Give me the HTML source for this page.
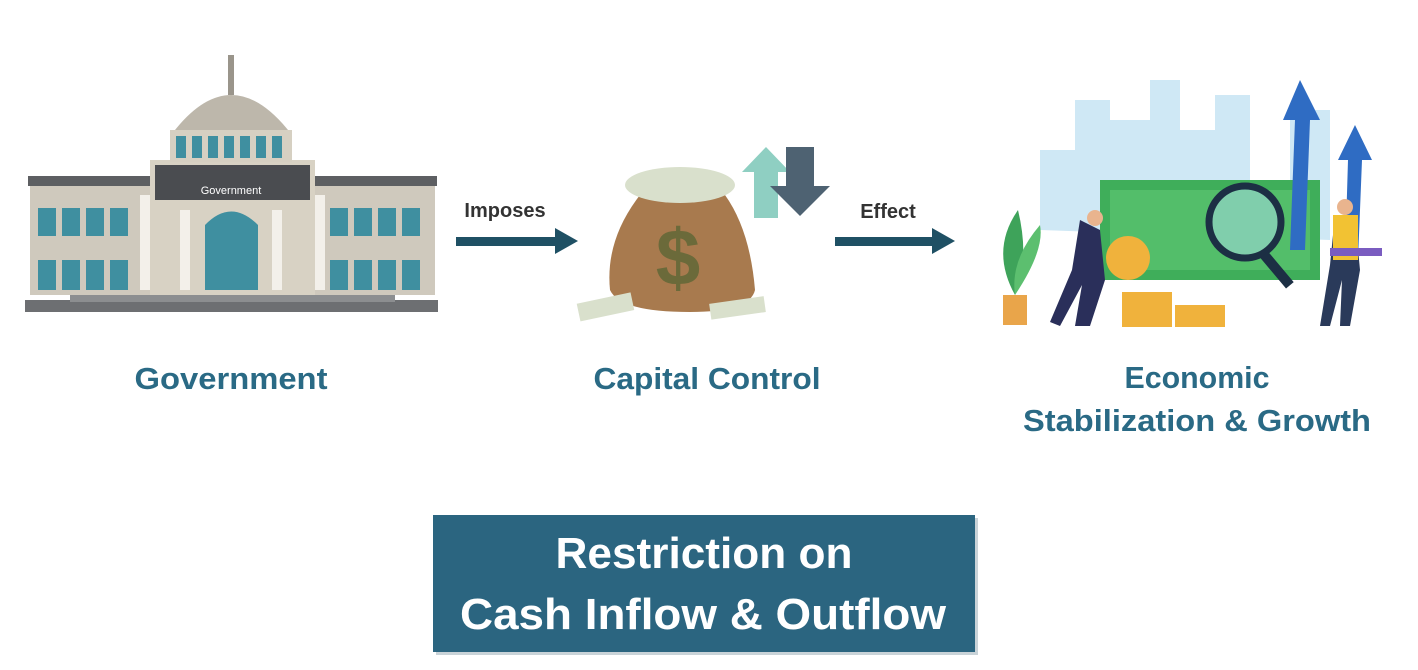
<!DOCTYPE html>
<html><head><meta charset="utf-8"><style>
html,body{margin:0;padding:0;background:#fff;}
svg{display:block;}
text{font-family:"Liberation Sans",sans-serif;}
</style></head><body>
<svg width="1418" height="670" viewBox="0 0 1418 670" xmlns="http://www.w3.org/2000/svg">
<g>
<rect x="25" y="300" width="413" height="12" fill="#6d6f72"/>
<rect x="70" y="290" width="325" height="12" fill="#8c8e90"/>
<rect x="30" y="185" width="130" height="110" fill="#cfc9bd"/>
<rect x="305" y="185" width="130" height="110" fill="#cfc9bd"/>
<rect x="28" y="176" width="134" height="10" fill="#5d5f62"/>
<rect x="303" y="176" width="134" height="10" fill="#5d5f62"/>
<rect x="150" y="160" width="165" height="135" fill="#d8d2c4"/>
<rect x="155" y="165" width="155" height="35" fill="#4a4c50"/>
<text x="231" y="194" font-size="11" fill="#fff" text-anchor="middle">Government</text>
<rect x="170" y="130" width="122" height="32" fill="#d6d0c2"/>
<g fill="#3f8fa0">
<rect x="176" y="136" width="10" height="22"/><rect x="192" y="136" width="10" height="22"/><rect x="208" y="136" width="10" height="22"/><rect x="224" y="136" width="10" height="22"/><rect x="240" y="136" width="10" height="22"/><rect x="256" y="136" width="10" height="22"/><rect x="272" y="136" width="10" height="22"/>
</g>
<path d="M175 130 Q231 60 288 130 Z" fill="#bdb7ab"/>
<rect x="228" y="55" width="6" height="40" fill="#9a958b"/>
<path d="M205 225 Q231 198 258 225 V290 H205 Z" fill="#3f8fa0"/>
<g fill="#3f8fa0">
<rect x="38" y="208" width="18" height="28"/><rect x="62" y="208" width="18" height="28"/><rect x="86" y="208" width="18" height="28"/><rect x="110" y="208" width="18" height="28"/>
<rect x="38" y="260" width="18" height="30"/><rect x="62" y="260" width="18" height="30"/><rect x="86" y="260" width="18" height="30"/><rect x="110" y="260" width="18" height="30"/>
<rect x="330" y="208" width="18" height="28"/><rect x="354" y="208" width="18" height="28"/><rect x="378" y="208" width="18" height="28"/><rect x="402" y="208" width="18" height="28"/>
<rect x="330" y="260" width="18" height="30"/><rect x="354" y="260" width="18" height="30"/><rect x="378" y="260" width="18" height="30"/><rect x="402" y="260" width="18" height="30"/>
</g>
<g fill="#f3f0ea"><rect x="140" y="195" width="10" height="95"/><rect x="315" y="195" width="10" height="95"/><rect x="180" y="210" width="10" height="80"/><rect x="272" y="210" width="10" height="80"/></g>
</g>
<rect x="456" y="237" width="102" height="9" fill="#1f5064"/>
<polygon points="555,228 578,241 555,254" fill="#1f5064"/>
<rect x="835" y="237" width="100" height="9" fill="#1f5064"/>
<polygon points="932,228 955,241 932,254" fill="#1f5064"/>
<text x="505" y="217" font-size="20" font-weight="bold" fill="#333" text-anchor="middle">Imposes</text>
<text x="888" y="218" font-size="20" font-weight="bold" fill="#333" text-anchor="middle">Effect</text>
<path d="M640 195 Q605 240 610 290 Q620 312 690 312 Q750 312 755 290 Q750 230 725 195 Z" fill="#a87a4e"/>
<ellipse cx="680" cy="185" rx="55" ry="18" fill="#d9e0cc"/>
<text x="678" y="285" font-size="80" font-weight="bold" fill="#6b6a3a" text-anchor="middle">$</text>
<rect x="578" y="298" width="55" height="18" fill="#d9e0cc" transform="rotate(-12 605 307)"/>
<rect x="710" y="300" width="55" height="16" fill="#d9e0cc" transform="rotate(-8 737 308)"/>
<polygon points="742,172 766,147 790,172 778,172 778,218 754,218 754,172" fill="#8fcfc2"/>
<polygon points="786,147 814,147 814,186 830,186 800,216 770,186 786,186" fill="#4e6272"/>
<g>
<path d="M1040 230 V150 H1075 V100 H1110 V120 H1150 V80 H1180 V130 H1215 V95 H1250 V200 H1290 V110 H1330 V240 Z" fill="#cfe8f5"/>
<rect x="1100" y="180" width="220" height="100" fill="#3fae5a"/>
<rect x="1110" y="190" width="200" height="80" fill="#5cc471" opacity="0.7"/>
<polygon points="1300,80 1320,120 1310,120 1305,250 1290,250 1295,120 1283,120" fill="#2f6cc3"/>
<polygon points="1355,125 1372,160 1362,160 1358,260 1345,260 1348,160 1338,160" fill="#2f6cc3"/>
<circle cx="1245" cy="222" r="36" fill="#9fd8d8" stroke="#1c2f44" stroke-width="7" fill-opacity="0.6"/>
<rect x="1272" y="250" width="10" height="40" fill="#1c2f44" transform="rotate(-40 1277 270)"/>
<circle cx="1128" cy="258" r="22" fill="#f0b23c"/>
<rect x="1122" y="292" width="50" height="35" fill="#f0b23c"/>
<rect x="1175" y="305" width="50" height="22" fill="#f0b23c"/>
<path d="M1080 220 L1100 230 L1105 280 L1090 326 L1075 326 L1082 285 L1060 326 L1050 322 L1072 270 Z" fill="#2a2f5a"/>
<circle cx="1095" cy="218" r="8" fill="#e9b48e"/>
<path d="M1335 215 L1355 218 L1360 270 L1350 326 L1340 326 L1342 280 L1330 326 L1320 326 L1330 265 Z" fill="#2a3a5a"/>
<rect x="1333" y="215" width="25" height="45" fill="#f2c233"/>
<circle cx="1345" cy="207" r="8" fill="#e9b48e"/>
<rect x="1330" y="248" width="52" height="8" fill="#7a5cc0"/>
<rect x="1003" y="295" width="24" height="30" fill="#e9a54a"/>
<path d="M1015 295 Q990 250 1018 210 Q1030 260 1015 295 Z" fill="#3ea35a"/>
<path d="M1015 295 Q1045 250 1040 225 Q1010 260 1015 295 Z" fill="#5cbf6f"/>
</g>
<g font-size="31" font-weight="bold" fill="#2a6a85" text-anchor="middle">
<text x="231" y="389" textLength="193" lengthAdjust="spacingAndGlyphs">Government</text>
<text x="707" y="389" textLength="227" lengthAdjust="spacingAndGlyphs">Capital Control</text>
<text x="1197" y="388" textLength="145" lengthAdjust="spacingAndGlyphs">Economic</text>
<text x="1197" y="431" textLength="348" lengthAdjust="spacingAndGlyphs">Stabilization &amp; Growth</text>
</g>
<rect x="436" y="518" width="542" height="137" fill="#c9d3d8"/>
<rect x="433" y="515" width="542" height="137" fill="#2b6580"/>
<g font-size="44" font-weight="bold" fill="#fff" text-anchor="middle">
<text x="704" y="568" textLength="297" lengthAdjust="spacingAndGlyphs">Restriction on</text>
<text x="703" y="629" textLength="486" lengthAdjust="spacingAndGlyphs">Cash Inflow &amp; Outflow</text>
</g>
</svg>
</body></html>
